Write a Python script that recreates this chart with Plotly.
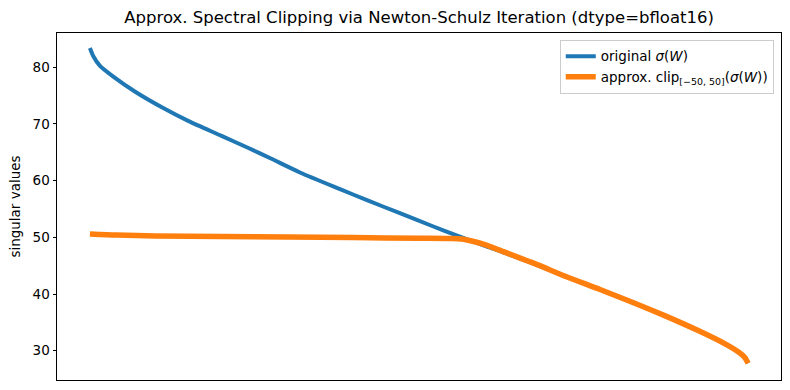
import plotly.graph_objects as go

# singular value index positions (out of 1000) and values
orig_idx = [0, 5, 15, 35, 70, 110, 150, 200, 240, 275, 320, 380, 420, 470, 520,
            560, 600, 625, 675, 725, 775, 825, 875, 925, 965, 985, 995, 1000]
orig_vals = [83.4, 82.0, 80.3, 78.4, 75.6, 72.9, 70.5, 67.9, 65.8, 63.9, 61.4, 58.5,
             56.6, 54.3, 52.0, 50.2, 48.5, 47.5, 45.3, 43.0, 40.8, 38.5, 36.1, 33.5,
             31.2, 29.8, 28.8, 27.8]

clip_idx = [0, 40, 100, 200, 300, 400, 500, 550, 565, 580, 600, 625, 675, 725, 775,
            825, 875, 925, 965, 985, 995, 1000]
clip_vals = [50.6, 50.4, 50.25, 50.15, 50.05, 49.95, 49.85, 49.8, 49.7, 49.35, 48.7,
             47.6, 45.4, 43.0, 40.8, 38.5, 36.1, 33.5, 31.2, 29.8, 28.8, 27.8]

y_ticks = [30, 40, 50, 60, 70, 80]

FONT = "DejaVu Sans"

fig = go.Figure()
fig.add_trace(go.Scatter(
    x=orig_idx, y=orig_vals, mode="lines",
    line=dict(color="#1f77b4", width=4, shape="spline", smoothing=0.6),
    name="original <i>σ</i>(<i>W</i>)",
))
fig.add_trace(go.Scatter(
    x=clip_idx, y=clip_vals, mode="lines",
    line=dict(color="#ff7f0e", width=5.5, shape="spline", smoothing=0.6),
    name="approx. clip<sub>[−50, 50]</sub>(<i>σ</i>(<i>W</i>))",
))

fig.update_layout(
    width=790, height=390,
    margin=dict(l=57, r=9, t=33, b=10, autoexpand=False),
    paper_bgcolor="white", plot_bgcolor="white",
    font=dict(family=FONT, size=13.5, color="black"),
    title=dict(
        text="Approx. Spectral Clipping via Newton-Schulz Iteration (dtype=bfloat16)",
        x=0.5305, xanchor="center", y=0.955, yanchor="middle",
        font=dict(family=FONT, size=16.5, color="black"),
    ),
    showlegend=True,
    legend=dict(
        x=0.99, xanchor="right", y=0.98, yanchor="top",
        bgcolor="rgba(255,255,255,0.8)", bordercolor="#cccccc", borderwidth=1,
        font=dict(family=FONT, size=13.5, color="black"),
        itemwidth=30,
    ),
    xaxis=dict(
        range=[-50, 1050], showticklabels=False, ticks="", showgrid=False,
        zeroline=False, showline=True, mirror=True, linecolor="black", linewidth=1,
        automargin=False,
    ),
    yaxis=dict(
        range=[24.83, 86.05], tickvals=y_ticks, ticks="outside", ticklen=3.5,
        tickcolor="black", showgrid=False, zeroline=False, showline=True,
        mirror=True, linecolor="black", linewidth=1, automargin=False,
        title=dict(text="singular values", standoff=8,
                   font=dict(family=FONT, size=13.5, color="black")),
    ),
)

fig.write_html("out.html",
               config={"displayModeBar": False},
               post_script="document.body.style.margin='0px';document.body.style.overflow='hidden';")
